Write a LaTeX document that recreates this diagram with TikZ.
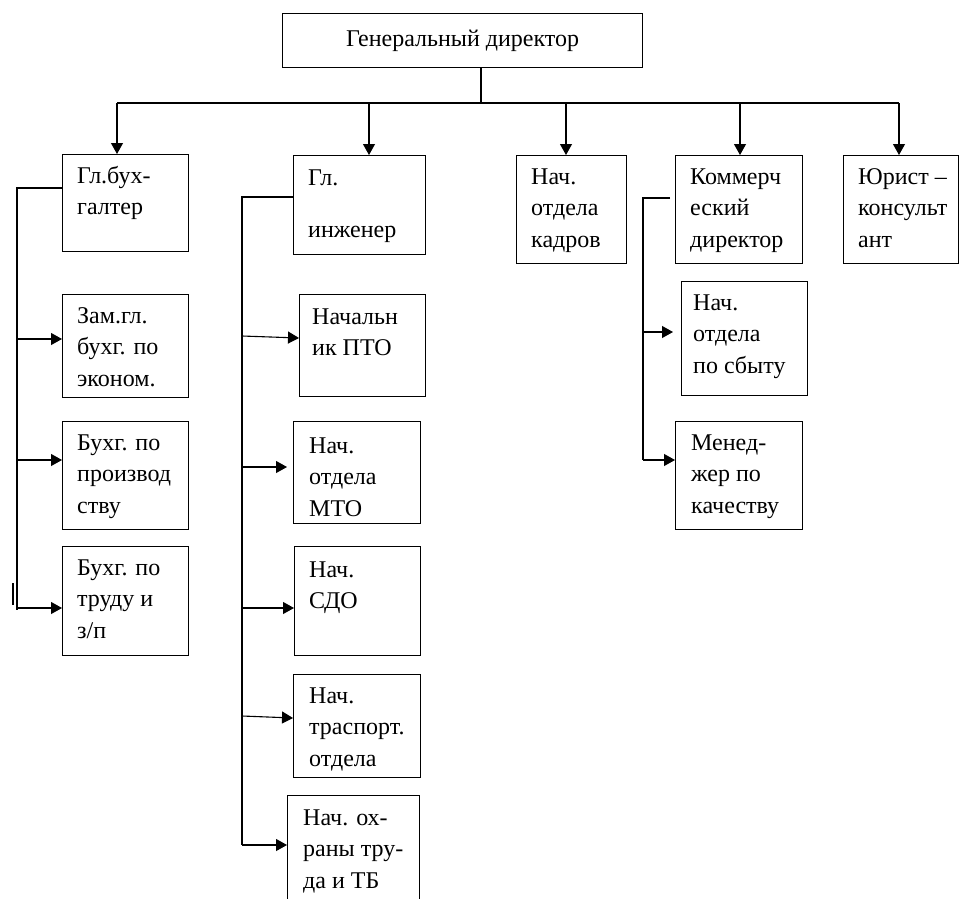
\documentclass[tikz,border=0pt]{standalone}
\usepackage{fontspec}
\setmainfont{Liberation Serif}
\usetikzlibrary{arrows.meta,calc}
\newcommand{\tl}[1]{\parbox[t]{200pt}{\raggedright #1}}
\begin{document}
\begin{tikzpicture}[x=1pt,y=-1pt,
  box/.style={draw, line width=1.2pt, inner sep=0pt, anchor=north west},
  txt/.style={anchor=base west, inner sep=0pt, font=\fontsize{24}{31.5}\selectfont},
  ln/.style={line width=1.1pt},
  arr/.style={line width=1.1pt, -{Triangle[width=12pt,length=11pt]}}]
\useasboundingbox (0,0) rectangle (959,899);
% boxes
\node[box, minimum width=360pt, minimum height=54pt, font=\fontsize{24}{31.5}\selectfont] (gd) at (282,13) {Генеральный директор};
\node[box, minimum width=126pt, minimum height=97pt] (gb) at (62,154) {};
\node[box, minimum width=132pt, minimum height=99pt] (gi) at (293,155) {};
\node[box, minimum width=110pt, minimum height=108pt] (nk) at (516,155) {};
\node[box, minimum width=127pt, minimum height=108pt] (kd) at (675,155) {};
\node[box, minimum width=115pt, minimum height=108pt] (yu) at (843,155) {};
\node[box, minimum width=126pt, minimum height=103pt] (zg) at (62,294) {};
\node[box, minimum width=126pt, minimum height=108pt] (bp) at (62,421) {};
\node[box, minimum width=126pt, minimum height=109pt] (bt) at (62,546) {};
\node[box, minimum width=126pt, minimum height=102pt] (pto) at (299,294) {};
\node[box, minimum width=127pt, minimum height=102pt] (mto) at (293,421) {};
\node[box, minimum width=126pt, minimum height=109pt] (sdo) at (294,546) {};
\node[box, minimum width=127pt, minimum height=103pt] (tr) at (293,674) {};
\node[box, minimum width=132pt, minimum height=115pt] (ot) at (287,795) {};
\node[box, minimum width=126pt, minimum height=114pt] (ns) at (681,281) {};
\node[box, minimum width=127pt, minimum height=108pt] (mk) at (675,421) {};
% texts
\node[txt] (gbt) at ($(gb.north west)+(15,29)$) {\tl{Гл.бух-\\галтер}};
\node[txt] (git) at ($(gi.north west)+(15,30)$) {\tl{Гл.\\[20.5pt]инженер}};
\node[txt] (nkt) at ($(nk.north west)+(15,29)$) {\tl{Нач.\\отдела\\кадров}};
\node[txt] (kdt) at ($(kd.north west)+(15,29)$) {\tl{Коммерч\\еский\\директор}};
\node[txt] (yut) at ($(yu.north west)+(15,29)$) {\tl{Юрист –\\консульт\\ант}};
\node[txt] (zgt) at ($(zg.north west)+(15,29)$) {\tl{Зам.гл.\\бухг. по\\эконом.}};
\node[txt] (bpt) at ($(bp.north west)+(15,29)$) {\tl{Бухг. по\\производ\\ству}};
\node[txt] (btt) at ($(bt.north west)+(15,29)$) {\tl{Бухг. по\\труду и\\з/п}};
\node[txt] (ptot) at ($(pto.north west)+(13,30)$) {\tl{Начальн\\ик ПТО}};
\node[txt] (mtot) at ($(mto.north west)+(16,32)$) {\tl{Нач.\\отдела\\МТО}};
\node[txt] (sdot) at ($(sdo.north west)+(15,31)$) {\tl{Нач.\\СДО}};
\node[txt] (trt) at ($(tr.north west)+(16,29)$) {\tl{Нач.\\траспорт.\\отдела}};
\node[txt] (ott) at ($(ot.north west)+(16,30)$) {\tl{Нач. ох-\\раны тру-\\да и ТБ}};
\node[txt] (nst) at ($(ns.north west)+(12,29)$) {\tl{Нач.\\отдела\\по сбыту}};
\node[txt] (mkt) at ($(mk.north west)+(16,29)$) {\tl{Менед-\\жер по\\качеству}};
% top bus
\coordinate (b0) at (481,103);
\coordinate (bL) at (117,103);
\coordinate (b2) at (369,103);
\coordinate (b3) at (566,103);
\coordinate (b4) at (740,103);
\coordinate (bR) at (899,103);
\draw[ln] (b0 |- gd.south) -- (b0);
\draw[ln] (bL) -- (bR);
\draw[arr] (bL) -- (bL |- gb.north);
\draw[arr] (b2) -- (b2 |- gi.north);
\draw[arr] (b3) -- (b3 |- nk.north);
\draw[arr] (b4) -- (b4 |- kd.north);
\draw[arr] (bR) -- (bR |- yu.north);
% left spine
\coordinate (gL) at (17,188);
\coordinate (gB) at (17,610);
\draw[ln] (gL -| gb.west) -- (gL) -- (gB);
\coordinate (g1) at (17,339);
\coordinate (g2) at (17,460);
\coordinate (g3) at (17,608);
\draw[arr] (g1) -- (g1 -| zg.west);
\draw[arr] (g2) -- (g2 -| bp.west);
\draw[arr] (g3) -- (g3 -| bt.west);
\coordinate (m1) at (13,583);
\coordinate (m2) at (13,605);
\draw[ln] (m1) -- (m2);
% middle spine
\coordinate (iL) at (242,197);
\coordinate (iB) at (242,845);
\draw[ln] (iL -| gi.west) -- (iL) -- (iB);
\coordinate (i1) at (242,336);
\coordinate (i1e) at (299,338);
\draw[arr] (i1) -- (i1e);
\coordinate (i2) at (242,467);
\draw[arr, shorten >=6pt] (i2) -- (i2 -| mto.west);
\coordinate (i3) at (242,608);
\draw[arr] (i3) -- (i3 -| sdo.west);
\coordinate (i4) at (242,716);
\coordinate (i4e) at (293,718);
\draw[arr] (i4) -- (i4e);
\draw[arr] (iB) -- (iB -| ot.west);
% right spine
\coordinate (kL) at (670,198);
\coordinate (kM) at (643,198);
\coordinate (kB) at (643,460);
\draw[ln] (kL) -- (kM) -- (kB);
\coordinate (k1) at (643,332);
\draw[arr, shorten >=8pt] (k1) -- (k1 -| ns.west);
\draw[arr] (kB) -- (kB -| mk.west);
\end{tikzpicture}
\end{document}
